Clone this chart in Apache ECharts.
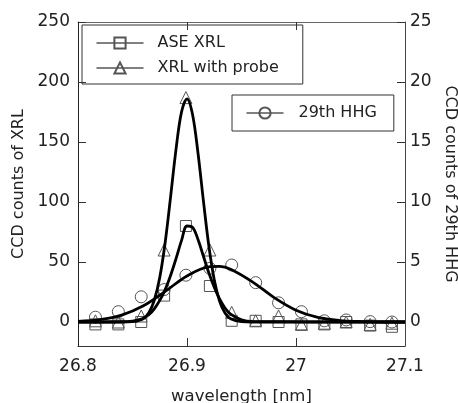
<!DOCTYPE html>
<html><head><meta charset="utf-8">
<script src="https://cdn.jsdelivr.net/npm/echarts@6/dist/echarts.min.js"></script>
<style>html,body{margin:0;padding:0;background:#fff}#c{width:458px;height:403px}</style>
</head><body><div id="c"></div>
<script>
// measured points
const wavelength = [26.816, 26.837, 26.858, 26.879, 26.899, 26.921, 26.941, 26.963, 26.984, 27.005, 27.026, 27.046, 27.068, 27.088];
const aseXrl   = [-2, -2, 0, 22, 80, 30, 1, 1, 0, -2, -2, 0, -3, -4];
const xrlProbe = [1, 0, 5, 60, 187, 60, 8, 1, 5, -2, -1, 0, -2, -1];
const hhg29    = [0.4, 0.86, 2.1, 2.7, 3.9, 4.47, 4.75, 3.28, 1.6, 0.86, 0.1, 0.17, 0.03, 0];
// fitted curves
const fitNarrowX = [26.80, 26.84, 26.85, 26.855, 26.86, 26.865, 26.87, 26.875, 26.88, 26.885, 26.89, 26.895, 26.90, 26.905, 26.91, 26.915, 26.92, 26.925, 26.93, 26.935, 26.94, 26.95, 26.96, 27.10];
const aseFit   = [0, 0.2, 0.8, 1.7, 3.2, 6, 11, 18, 27, 39, 53, 68, 80, 79, 69, 55, 41, 29, 19, 11.5, 6.5, 1.8, 0.4, 0];
const probeFit = [0, 0, 0.3, 1.0, 2.9, 7.7, 18.1, 37.0, 66.5, 104.7, 144.5, 175.1, 186.0, 173.3, 141.5, 101.4, 63.7, 35.1, 17.0, 7.2, 2.7, 0.25, 0, 0];
const fitWideX = [26.80, 26.82, 26.84, 26.86, 26.88, 26.90, 26.92, 26.93, 26.94, 26.96, 26.98, 27.00, 27.02, 27.04, 27.06, 27.08, 27.10];
const hhgFit   = [0.05, 0.19, 0.57, 1.35, 2.55, 3.84, 4.60, 4.63, 4.40, 3.35, 2.03, 0.98, 0.38, 0.12, 0.03, 0, 0];
// axes
const xTickLabels = [26.8, 26.9, 27, 27.1];
const xInnerTicks = [26.9, 27];
const leftTicks = [0, 50, 100, 150, 200, 250];
const rightTicks = [0, 5, 10, 15, 20, 25];

const FONT = 'DejaVu Sans';
const TXT = '#222';
const MK = '#555';
const TK = '#333';
const pairs = (xs, ys) => xs.map((x, i) => [x, ys[i]]);

const chart = echarts.init(document.getElementById('c'), null, {renderer: 'canvas'});
const markerSeries = (name, sym, size, ys, yIdx) => ({
  name, type: 'line', yAxisIndex: yIdx, data: pairs(wavelength, ys),
  symbol: sym, symbolSize: size, showSymbol: true,
  lineStyle: {width: 0, opacity: 0},
  itemStyle: {color: 'rgba(0,0,0,0)', borderColor: MK, borderWidth: 1},
  z: 2, silent: true
});
const fitSeries = (name, xs, ys, yIdx) => ({
  name, type: 'line', yAxisIndex: yIdx, data: pairs(xs, ys), smooth: 0.35,
  symbol: 'none', lineStyle: {color: '#000', width: 2.8}, z: 5, silent: true
});
const tick = vals => ({show: true, inside: true, length: 8, customValues: vals, lineStyle: {color: TK, width: 1}});

chart.setOption({
  animation: false,
  backgroundColor: '#fff',
  textStyle: {fontFamily: FONT},
  grid: {left: 78, right: 53, top: 22, bottom: 57, containLabel: false, outerBoundsMode: 'none'},
  legend: [
    {
      data: ['ASE XRL', 'XRL with probe'], orient: 'vertical', left: 82, top: 25,
      padding: [9, 24, 7, 14], itemGap: 7, itemWidth: 47, itemHeight: 14,
      borderColor: '#333', borderWidth: 1, borderRadius: 0,
      textStyle: {fontFamily: FONT, fontSize: 16, color: TXT, lineHeight: 18, padding: [0, 0, 0, 9]},
      lineStyle: {color: '#000', width: 1, opacity: 1, type: 'solid'},
      selectedMode: false
    },
    {
      data: ['29th HHG'], orient: 'vertical', left: 232, top: 95,
      padding: [9, 17, 9, 14], itemWidth: 37, itemHeight: 14,
      borderColor: '#333', borderWidth: 1, borderRadius: 0,
      textStyle: {fontFamily: FONT, fontSize: 16, color: TXT, lineHeight: 18, padding: [0, 0, 0, 10]},
      lineStyle: {color: '#000', width: 1, opacity: 1, type: 'solid'},
      selectedMode: false
    }
  ],
  xAxis: [
    {
      type: 'value', min: 26.8, max: 27.1, position: 'bottom',
      name: 'wavelength [nm]', nameLocation: 'middle', nameGap: 42,
      nameTextStyle: {fontFamily: FONT, fontSize: 16.5, color: TXT},
      axisLine: {show: true, onZero: false, lineStyle: {color: '#333', width: 1}},
      axisTick: tick(xInnerTicks),
      axisLabel: {customValues: xTickLabels, fontFamily: FONT, fontSize: 17, color: TXT, margin: 12,
        formatter: v => String(v)},
      splitLine: {show: false}
    },
    {
      type: 'value', min: 26.8, max: 27.1, position: 'top',
      axisLine: {show: true, onZero: false, lineStyle: {color: '#666', width: 1}},
      axisTick: tick(xInnerTicks),
      axisLabel: {show: false}, splitLine: {show: false}
    }
  ],
  yAxis: [
    {
      type: 'value', min: -20, max: 250, position: 'left',
      name: 'CCD counts of XRL', nameLocation: 'middle', nameGap: 49,
      nameTextStyle: {fontFamily: FONT, fontSize: 16, color: TXT},
      axisLine: {show: true, onZero: false, lineStyle: {color: '#222', width: 1}},
      axisTick: tick(leftTicks),
      axisLabel: {customValues: leftTicks, fontFamily: FONT, fontSize: 17, color: TXT, margin: 8},
      splitLine: {show: false}
    },
    {
      type: 'value', min: -2, max: 25, position: 'right',
      name: 'CCD counts of 29th HHG', nameLocation: 'middle', nameGap: 33, nameRotate: -90,
      nameTextStyle: {fontFamily: FONT, fontSize: 16, color: TXT},
      axisLine: {show: true, onZero: false, lineStyle: {color: '#444', width: 1}},
      axisTick: tick(rightTicks),
      axisLabel: {customValues: rightTicks, fontFamily: FONT, fontSize: 17, color: TXT, margin: 5},
      splitLine: {show: false}
    }
  ],
  series: [
    markerSeries('ASE XRL', 'rect', 11, aseXrl, 0),
    markerSeries('XRL with probe', 'triangle', 12, xrlProbe, 0),
    markerSeries('29th HHG', 'circle', 12, hhg29, 1),
    fitSeries('ASE fit', fitNarrowX, aseFit, 0),
    fitSeries('probe fit', fitNarrowX, probeFit, 0),
    fitSeries('HHG fit', fitWideX, hhgFit, 1)
  ]
});
</script></body></html>
